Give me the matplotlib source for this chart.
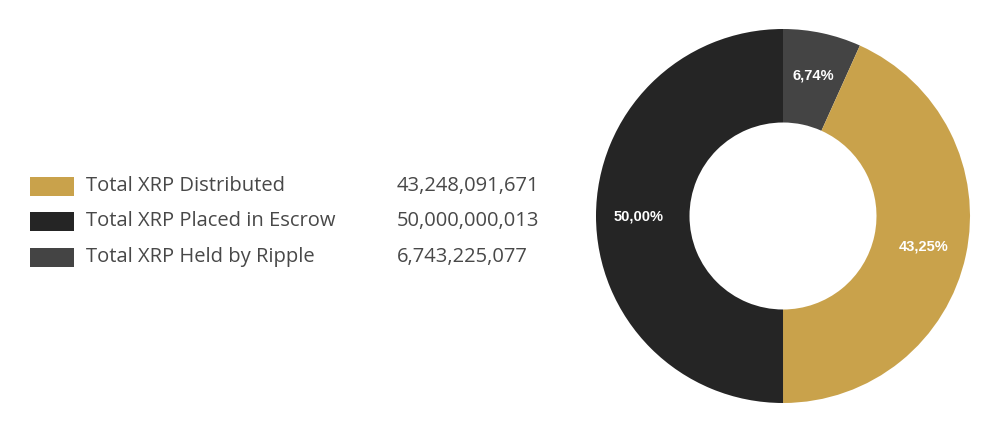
import matplotlib
matplotlib.use("Agg")
import matplotlib.pyplot as plt
from matplotlib.patches import Rectangle

# data
labels = ["Total XRP Distributed", "Total XRP Placed in Escrow", "Total XRP Held by Ripple"]
values = [43248091671, 50000000013, 6743225077]
colors = ["#C9A24B", "#252525", "#444444"]

fig = plt.figure(figsize=(10, 4.24), dpi=100)
fig.patch.set_facecolor("white")

# donut, drawn clockwise from 12 o'clock: held, distributed, escrow
order = [2, 0, 1]
ax = fig.add_axes([0.596, 21 / 424, 0.374, 374 / 424])
wedges, texts, autotexts = ax.pie(
    [values[i] for i in order],
    colors=[colors[i] for i in order],
    startangle=90,
    counterclock=False,
    radius=1.0,
    wedgeprops=dict(width=0.5, linewidth=0),
    autopct=lambda p: f"{p:.2f}%".replace(".", ","),
    pctdistance=0.77,
    textprops=dict(color="white", fontsize=10.5, fontweight="bold", family="Liberation Sans"),
)
ax.set_xlim(-1, 1)
ax.set_ylim(-1, 1)
ax.set_aspect("equal")

# legend with values
rows_y = [186, 221, 257]
for lab, val, col, y in zip(labels, values, colors, rows_y):
    yf = 1 - y / 424
    fig.patches.append(Rectangle((30 / 1000, yf - 10 / 424), 44 / 1000, 19 / 424,
                                 transform=fig.transFigure, facecolor=col, edgecolor="none"))
    fig.text(86 / 1000, yf, lab, fontsize=14.5, color="#484848", va="center", family="Open Sans")
    fig.text(397 / 1000, yf, f"{val:,}", fontsize=14.5, color="#484848", va="center", family="Open Sans")

fig.savefig("out.png", dpi=100, facecolor="white")
